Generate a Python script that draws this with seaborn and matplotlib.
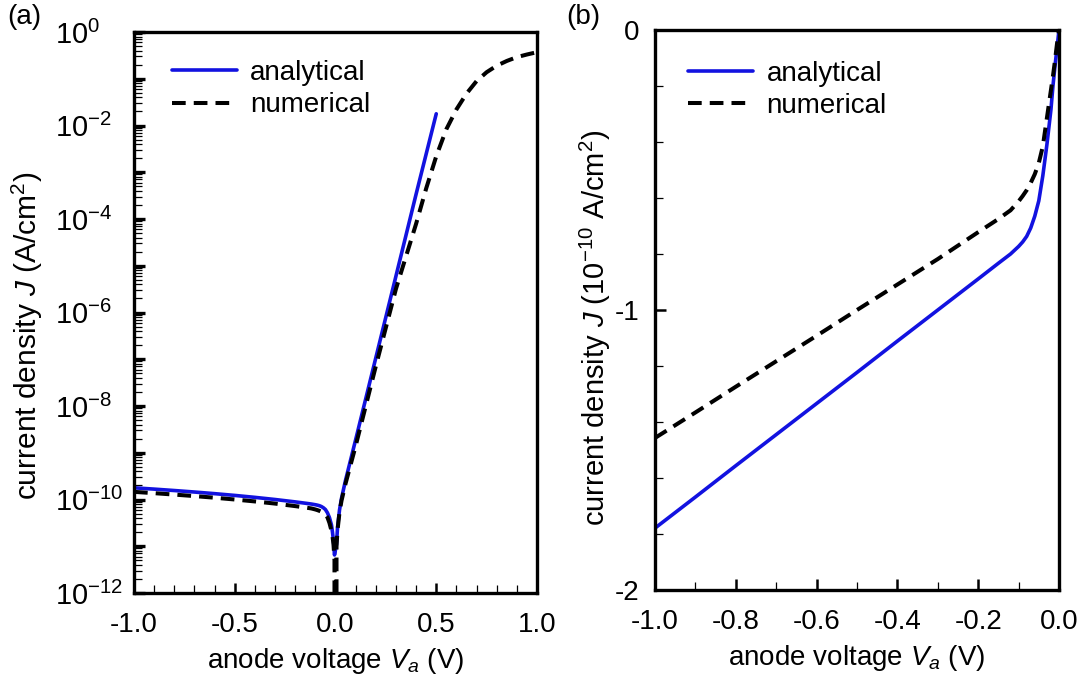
import numpy as np
import pandas as pd
import matplotlib
matplotlib.use("Agg")
import matplotlib.pyplot as plt
import seaborn as sns
from matplotlib.ticker import (FixedLocator, MultipleLocator, LogLocator,
                               NullFormatter, FuncFormatter)

# ---------------- data ----------------
# reverse bias: J in units of 1e-10 A/cm^2
v_rev = [-1.0, -0.9, -0.8, -0.7, -0.6, -0.5, -0.4, -0.3, -0.2, -0.15, -0.12,
         -0.10, -0.09, -0.08, -0.07, -0.06, -0.05, -0.04, -0.03, -0.02, -0.015,
         -0.01, -0.005, 0.0]
j_rev_analytical = [-1.779, -1.668, -1.556, -1.445, -1.334, -1.223, -1.111, -1.000,
                    -0.889, -0.833, -0.800, -0.773, -0.757, -0.737, -0.707, -0.665,
                    -0.610, -0.520, -0.410, -0.285, -0.200, -0.130, -0.065, 0.0]
j_rev_numerical = [-1.457, -1.366, -1.274, -1.183, -1.092, -1.000, -0.909, -0.818,
                   -0.722, -0.675, -0.644, -0.612, -0.593, -0.572, -0.546, -0.515,
                   -0.475, -0.415, -0.315, -0.215, -0.165, -0.110, -0.050, 0.0]

# forward bias: J in A/cm^2
v_fwd_analytical = [0.005, 0.01, 0.02, 0.03, 0.05, 0.1, 0.2, 0.3, 0.4, 0.5]
j_fwd_analytical = [1.1e-11, 2.5e-11, 6.0e-11, 1.07e-10, 2.6e-10, 1.9e-9,
                    1.07e-7, 6.0e-6, 3.4e-4, 1.78e-2]
v_fwd_numerical = [0.005, 0.01, 0.02, 0.03, 0.05, 0.1, 0.2, 0.3, 0.4, 0.45, 0.5,
                   0.55, 0.6, 0.65, 0.7, 0.75, 0.8, 0.85, 0.9, 0.95, 1.0]
j_fwd_numerical = [1.0e-11, 2.2e-11, 5.4e-11, 9.5e-11, 2.2e-10, 1.4e-9, 7.1e-8,
                   3.2e-6, 7.9e-5, 4.5e-4, 2.2e-3, 8.3e-3, 2.2e-2, 4.8e-2, 8.9e-2,
                   0.138, 0.19, 0.24, 0.29, 0.33, 0.37]

series_labels = ["analytical", "numerical"]
BLUE = "#1212E0"
DASH = (0, (3.4, 2.0))
FS = 20

# ---------------- style ----------------
sns.set_theme(style="ticks")
plt.rcParams["font.family"] = ["Liberation Sans", "DejaVu Sans"]
plt.rcParams.update({
    "mathtext.fontset": "custom",
    "mathtext.rm": "Liberation Sans",
    "mathtext.it": "Liberation Sans:italic",
    "mathtext.default": "regular",
    "axes.unicode_minus": False,
    "axes.linewidth": 2.4,
    "axes.edgecolor": "black",
    "text.color": "black",
    "axes.labelcolor": "black",
    "xtick.color": "black",
    "ytick.color": "black",
})

fig = plt.figure(figsize=(10.86, 6.79), dpi=100)
ax1 = fig.add_axes([134 / 1086, 1 - 593 / 679, 403 / 1086, 561 / 679])
ax2 = fig.add_axes([655 / 1086, 1 - 590 / 679, 404 / 1086, 560 / 679])

# ---------------- panel (a) ----------------
df_a = pd.DataFrame({
    "V": v_rev[:-1] + v_fwd_analytical,
    "J": [abs(j) * 1e-10 for j in j_rev_analytical[:-1]] + j_fwd_analytical,
})
df_n = pd.DataFrame({
    "V": v_rev + v_fwd_numerical,
    "J": [abs(j) * 1e-10 for j in j_rev_numerical] + j_fwd_numerical,
})
sns.lineplot(data=df_a, x="V", y="J", ax=ax1, sort=False, estimator=None,
             color=BLUE, lw=2.6, label=series_labels[0])
sns.lineplot(data=df_n, x="V", y="J", ax=ax1, sort=False, estimator=None,
             color="black", lw=2.9, linestyle=DASH, label=series_labels[1])
ax1.set_yscale("log")
ax1.set_xlim(-1, 1)
ax1.set_ylim(1e-12, 1)

ax1.yaxis.set_major_locator(FixedLocator([10.0 ** k for k in range(-12, 1)]))


def log_fmt(y, _):
    e = int(round(np.log10(y)))
    return r"$10^{%d}$" % e if e % 2 == 0 else ""


ax1.yaxis.set_major_formatter(FuncFormatter(log_fmt))
ax1.yaxis.set_minor_locator(LogLocator(base=10, subs=np.arange(2, 10), numticks=200))
ax1.yaxis.set_minor_formatter(NullFormatter())
ax1.xaxis.set_major_locator(MultipleLocator(0.5))
ax1.xaxis.set_minor_locator(MultipleLocator(0.1))
ax1.xaxis.set_major_formatter(FuncFormatter(lambda x, _: "%.1f" % (0.0 if abs(x) < 1e-9 else x)))

ax1.tick_params(axis="y", which="major", direction="in", length=8, width=2.4,
                labelsize=FS + 1, pad=57)
ax1.tick_params(axis="y", which="minor", direction="in", length=5.5, width=0.9)
ax1.tick_params(axis="x", which="major", direction="in", length=7, width=1.8,
                labelsize=FS, pad=14)
ax1.tick_params(axis="x", which="minor", direction="in", length=5.5, width=0.9)
for lab in ax1.get_yticklabels():
    lab.set_horizontalalignment("left")

ax1.set_xlabel(r"anode voltage $\mathit{V_a}$ (V)", fontsize=FS)
ax1.set_ylabel(r"current density $\mathit{J}$ (A/cm$^2$)", fontsize=FS + 1.5)
ax1.xaxis.set_label_coords(0.5, -0.094)
ax1.yaxis.set_label_coords(-0.222, 0.458)

ax1.legend(loc="upper left", bbox_to_anchor=(0.094, 0.95), frameon=False,
           fontsize=FS, handlelength=2.35, handletextpad=0.47, labelspacing=0.23,
           borderpad=0, borderaxespad=0)

# ---------------- panel (b) ----------------
df_ra = pd.DataFrame({"V": v_rev, "J": j_rev_analytical})
df_rn = pd.DataFrame({"V": v_rev, "J": j_rev_numerical})
sns.lineplot(data=df_ra, x="V", y="J", ax=ax2, sort=False, estimator=None,
             color=BLUE, lw=2.6, label=series_labels[0])
sns.lineplot(data=df_rn, x="V", y="J", ax=ax2, sort=False, estimator=None,
             color="black", lw=2.9, linestyle=DASH, label=series_labels[1])
ax2.set_xlim(-1, 0)
ax2.set_ylim(-2, 0)
ax2.xaxis.set_major_locator(MultipleLocator(0.2))
ax2.xaxis.set_minor_locator(MultipleLocator(0.1))
ax2.xaxis.set_major_formatter(FuncFormatter(lambda x, _: "%.1f" % (0.0 if abs(x) < 1e-9 else x)))
ax2.yaxis.set_major_locator(MultipleLocator(1))
ax2.yaxis.set_minor_locator(MultipleLocator(0.2))
ax2.yaxis.set_major_formatter(FuncFormatter(lambda y, _: "%d" % round(y)))
ax2.tick_params(axis="both", which="major", direction="in", length=8, width=1.8,
                labelsize=FS)
ax2.tick_params(axis="y", which="major", pad=11)
ax2.tick_params(axis="x", which="major", pad=14)
ax2.tick_params(axis="both", which="minor", direction="in", length=6, width=0.9)

ax2.set_xlabel(r"anode voltage $\mathit{V_a}$ (V)", fontsize=FS)
ax2.set_ylabel(r"current density $\mathit{J}$ (10$^{-10}$ A/cm$^2$)", fontsize=FS + 1)
ax2.xaxis.set_label_coords(0.5, -0.094)
ax2.yaxis.set_label_coords(-0.104, 0.468)

ax2.legend(loc="upper left", bbox_to_anchor=(0.082, 0.945), frameon=False,
           fontsize=FS, handlelength=2.35, handletextpad=0.47, labelspacing=0.23,
           borderpad=0, borderaxespad=0)

for ax in (ax1, ax2):
    for s in ax.spines.values():
        s.set_visible(True)
        s.set_linewidth(2.4)

fig.text(7 / 1086, 1 - 4 / 679, "(a)", fontsize=FS, va="top", ha="left")
fig.text(566 / 1086, 1 - 4 / 679, "(b)", fontsize=FS, va="top", ha="left")

fig.savefig("out.png", dpi=100)
